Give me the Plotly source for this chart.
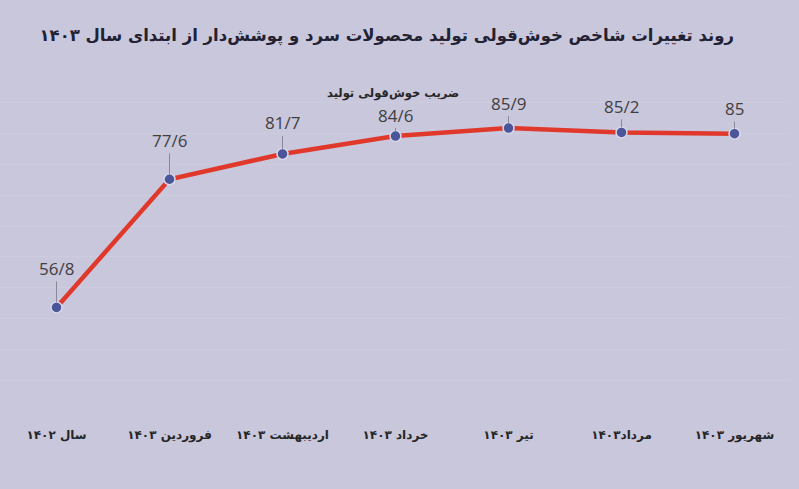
import plotly.graph_objects as go

categories = ["سال ۱۴۰۲", "فروردین ۱۴۰۳", "اردیبهشت ۱۴۰۳", "خرداد ۱۴۰۳",
              "تیر ۱۴۰۳", "مرداد۱۴۰۳", "شهریور ۱۴۰۳"]
values = [56.8, 77.6, 81.7, 84.6, 85.9, 85.2, 85.0]
value_labels = ["56/8", "77/6", "81/7", "84/6", "85/9", "85/2", "85"]
series_name = "ضریب خوش‌قولی تولید"
title_text = "روند تغییرات شاخص خوش‌قولی تولید محصولات سرد و پوشش‌دار از ابتدای سال ۱۴۰۳"

label_offsets = [-39, -39, -31, -21, -25, -26, -25]

BG = "#c9c7dc"

fig = go.Figure()
fig.add_trace(go.Scatter(
    x=list(range(len(categories))), y=values, mode="lines+markers",
    name=series_name,
    line=dict(color="#e0392b", width=4.5),
    marker=dict(size=11, color="#4a5699", line=dict(color="#d8d8e8", width=1.5)),
    showlegend=False,
))

for i, (v, t) in enumerate(zip(values, value_labels)):
    fig.add_annotation(
        x=i, y=v, text=t, showarrow=True, arrowhead=0, arrowwidth=1,
        arrowcolor="#8a8a96", ax=0, ay=label_offsets[i], standoff=5,
        font=dict(family="Open Sans", size=17, color="#404040"),
    )

fig.add_annotation(
    xref="paper", yref="paper", x=0.497, y=0.958, yanchor="middle",
    text="<b>" + series_name + "</b>",
    showarrow=False, font=dict(family="DejaVu Sans", size=11.5, color="#262626"),
)

fig.update_layout(
    width=799, height=489,
    paper_bgcolor=BG, plot_bgcolor=BG,
    margin=dict(l=0, r=8, t=80, b=78),
    title=dict(text="<b>" + title_text + "</b>", x=0.484, xanchor="center",
               y=0.928, yanchor="middle",
               font=dict(family="DejaVu Sans", size=16.5, color="#222233")),
    xaxis=dict(tickmode="array", tickvals=list(range(len(categories))),
               ticktext=["<b>" + c + "</b>" for c in categories],
               range=[-0.5, len(categories) - 0.5], showgrid=False, zeroline=False,
               showline=False, ticks="outside", ticklen=13, tickcolor=BG,
               tickfont=dict(family="DejaVu Sans", size=12, color="#262626")),
    yaxis=dict(range=[40, 93.7], dtick=5, showticklabels=False,
               showgrid=True, gridcolor="rgba(255,255,255,0.08)", gridwidth=1,
               zeroline=False, showline=False),
)

fig.write_html("out.html", config={"displayModeBar": False},
               post_script="document.body.style.margin='0';")
